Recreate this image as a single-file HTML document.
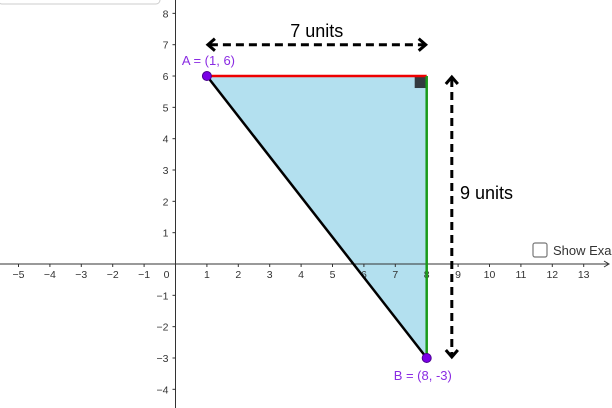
<!DOCTYPE html>
<html><head><meta charset="utf-8"><style>
html,body{margin:0;padding:0;background:#fff;width:612px;height:408px;overflow:hidden}
svg{display:block;font-family:"Liberation Sans",sans-serif}
</style></head><body>
<svg id="c" width="612" height="408" xmlns="http://www.w3.org/2000/svg">
<rect x="-2" y="-6" width="162" height="10" rx="4" fill="#fff" stroke="#ccc"/>
<g id="grid"></g>
</svg>
<script>
const xTicks=[-5,-4,-3,-2,-1,1,2,3,4,5,6,7,8,9,10,11,12,13];
const yTicks=[-4,-3,-2,-1,1,2,3,4,5,6,7,8];
const pointA=[1,6];
const pointB=[8,-3];
const corner=[8,6];
const hArrowY=7;
const vArrowX=8.8;
const X=v=>175.5+v*31.4;
const Y=v=>264-v*31.33;
const NS="http://www.w3.org/2000/svg";
const svg=document.getElementById('c');
function mk(t,a,txt){const e=document.createElementNS(NS,t);for(const k in a)e.setAttribute(k,a[k]);if(txt!==undefined)e.textContent=txt;svg.appendChild(e);return e;}
// triangle fill first (labels drawn over it)
let e=mk('polygon',{points:`${X(pointA[0])},${Y(pointA[1])} ${X(corner[0])},${Y(corner[1])} ${X(pointB[0])},${Y(pointB[1])}`,fill:'#b3e0ef'});


// axes
e=mk('line',{x1:0,y1:Y(0),x2:608,y2:Y(0),stroke:'#333','stroke-width':1});


e=mk('path',{d:`M604 ${Y(0)-3}L609 ${Y(0)}L604 ${Y(0)+3}`,fill:'none',stroke:'#333'});


e=mk('line',{x1:X(0),y1:0,x2:X(0),y2:408,stroke:'#333','stroke-width':1});


xTicks.forEach(v=>{
 let t=mk('line',{x1:X(v),y1:Y(0),x2:X(v),y2:Y(0)+3,stroke:'#333'});
 
 
 let l=mk('text',{x:X(v),y:Y(0)+14,'font-size':10.5,'text-anchor':'middle',fill:'#333'},v<0?'\u2212'+(-v):v);
 
 
});
e=mk('text',{x:X(0)-9,y:Y(0)+14,'font-size':10.5,'text-anchor':'middle',fill:'#333'},'0');


yTicks.forEach(v=>{
 let t=mk('line',{x1:X(0)-3,y1:Y(v),x2:X(0),y2:Y(v),stroke:'#333'});
 
 
 let l=mk('text',{x:X(0)-7,y:Y(v)+4,'font-size':10.5,'text-anchor':'end',fill:'#333'},v<0?'\u2212'+(-v):v);
 
 
});
e=mk('rect',{x:X(corner[0])-12,y:Y(corner[1]),width:12,height:12,fill:'#333a40'});


e=mk('line',{x1:X(pointA[0]),y1:Y(pointA[1]),x2:X(corner[0]),y2:Y(corner[1]),stroke:'#e00','stroke-width':2.5});


e=mk('line',{x1:X(corner[0]),y1:Y(corner[1]),x2:X(pointB[0]),y2:Y(pointB[1]),stroke:'#1a9a1a','stroke-width':2.5});


e=mk('line',{x1:X(pointA[0]),y1:Y(pointA[1]),x2:X(pointB[0]),y2:Y(pointB[1]),stroke:'#000','stroke-width':2.5});


// arrows
const hy=Y(hArrowY),x1=X(pointA[0]),x2=X(corner[0]);
e=mk('line',{x1:x1+3,y1:hy,x2:x2-3,y2:hy,stroke:'#000','stroke-width':3,'stroke-dasharray':'8,5'});


e=mk('path',{d:`M${x1+8} ${hy-6}L${x1+1} ${hy}L${x1+8} ${hy+6}M${x2-8} ${hy-6}L${x2-1} ${hy}L${x2-8} ${hy+6}`,fill:'none',stroke:'#000','stroke-width':3});


const vx=X(vArrowX),y1=Y(pointA[1]),y2=Y(pointB[1]);
e=mk('line',{x1:vx,y1:y1+3,x2:vx,y2:y2-3,stroke:'#000','stroke-width':3,'stroke-dasharray':'8,5'});


e=mk('path',{d:`M${vx-6} ${y1+8}L${vx} ${y1+1}L${vx+6} ${y1+8}M${vx-6} ${y2-8}L${vx} ${y2-1}L${vx+6} ${y2-8}`,fill:'none',stroke:'#000','stroke-width':3});


e=mk('text',{x:(x1+x2)/2,y:37,'font-size':18,'text-anchor':'middle',fill:'#000'},'7 units');


e=mk('text',{x:460,y:199,'font-size':18,fill:'#000'},'9 units');


// points
[[pointA,'A = (1, 6)',X(pointA[0])-25,Y(pointA[1])-11,'point-a'],[pointB,'B = (8, -3)',X(pointB[0])-33,Y(pointB[1])+22,'point-b']].forEach(p=>{
 let c=mk('circle',{cx:X(p[0][0]),cy:Y(p[0][1]),r:4.5,fill:'#7a00e6',stroke:'#4a0090'});
 
 
 let t=mk('text',{x:p[2],y:p[3],'font-size':13,fill:'#8a2be2'},p[1]);
 
 
});
// checkbox
e=mk('rect',{x:533,y:243,width:14,height:14,rx:2,fill:'#fff',stroke:'#777','stroke-width':1.2});


e=mk('text',{x:553,y:255,'font-size':13,fill:'#333'},'Show Exa');


</script>
</body></html>
